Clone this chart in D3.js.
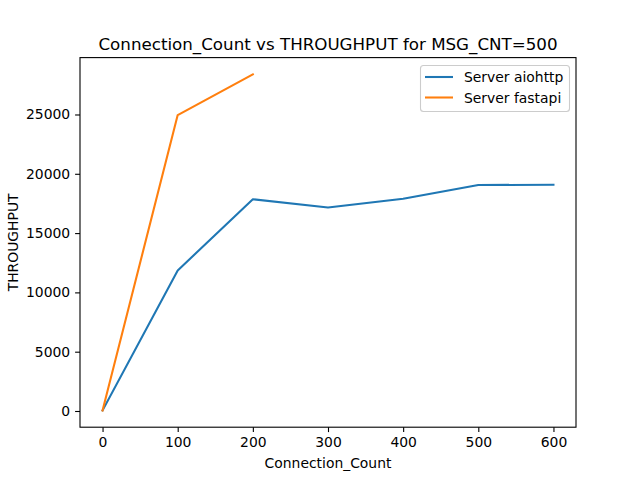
<!DOCTYPE html>
<html>
<head>
<meta charset="utf-8">
<script src="https://cdn.jsdelivr.net/npm/d3@7"></script>
<style>
  body { margin: 0; background: #fff; }
  text { font-family: "DejaVu Sans", sans-serif; }
</style>
</head>
<body>
<svg id="chart" width="640" height="480"></svg>
<script>
// Data
const connCounts = [0, 100, 200, 300, 400, 500, 600];
const aiohttpVals = [50, 11850, 17850, 17150, 17900, 19050, 19080];
const fastapiCounts = [0, 100, 200];
const fastapiVals = [50, 24950, 28380];
const xTicks = [0, 100, 200, 300, 400, 500, 600];
const yTicks = [0, 5000, 10000, 15000, 20000, 25000];
const seriesNames = ["Server aiohttp", "Server fastapi"];
const seriesColors = ["#1f77b4", "#ff7f0e"];

const width = 640;
const height = 480;
const plotLeft = 80, plotRight = 576, plotTop = 57.6, plotBottom = 427.2;

const svg = d3.select("#chart");

// matplotlib-style 5% margins
const xmin = d3.min(connCounts), xmax = d3.max(connCounts);
const allY = aiohttpVals.concat(fastapiVals);
const ymin = d3.min(allY), ymax = d3.max(allY);
const xPad = (xmax - xmin) * 0.05, yPad = (ymax - ymin) * 0.05;

const x = d3.scaleLinear().domain([xmin - xPad, xmax + xPad]).range([plotLeft, plotRight]);
const y = d3.scaleLinear().domain([ymin - yPad, ymax + yPad]).range([plotBottom, plotTop]);

// Axes
const xAxis = svg.append("g")
  .attr("transform", `translate(0,${plotBottom})`)
  .call(d3.axisBottom(x).tickValues(xTicks).tickSizeOuter(0).tickSize(4.9).tickPadding(4.9).tickFormat(d3.format("d")));
const yAxis = svg.append("g")
  .attr("transform", `translate(${plotLeft},0)`)
  .call(d3.axisLeft(y).tickValues(yTicks).tickSizeOuter(0).tickSize(4.9).tickPadding(4.9).tickFormat(d3.format("d")));

[xAxis, yAxis].forEach(a => {
  a.select(".domain").remove();
  a.selectAll(".tick line").attr("stroke", "#000").attr("stroke-width", 1.1);
  a.selectAll(".tick text").attr("font-size", "13.9px").attr("fill", "#000")
    .style("font-family", "DejaVu Sans, sans-serif");
});

// Lines
const line = d3.line().x(d => x(d[0])).y(d => y(d[1]));
const series = [
  d3.zip(connCounts, aiohttpVals),
  d3.zip(fastapiCounts, fastapiVals),
];
series.forEach((s, i) => {
  svg.append("path")
    .datum(s)
    .attr("d", line)
    .attr("fill", "none")
    .attr("stroke", seriesColors[i])
    .attr("stroke-width", 2.08)
    .attr("stroke-linecap", "square")
    .attr("stroke-linejoin", "round");
});

// Frame
svg.append("rect")
  .attr("x", plotLeft).attr("y", plotTop)
  .attr("width", plotRight - plotLeft).attr("height", plotBottom - plotTop)
  .attr("fill", "none").attr("stroke", "#000").attr("stroke-width", 1.1);

// Title and labels
svg.append("text")
  .attr("x", (plotLeft + plotRight) / 2).attr("y", 50)
  .attr("text-anchor", "middle").attr("font-size", "16.7px")
  .text("Connection_Count vs THROUGHPUT for MSG_CNT=500");

svg.append("text")
  .attr("x", (plotLeft + plotRight) / 2).attr("y", 468)
  .attr("text-anchor", "middle").attr("font-size", "13.9px")
  .text("Connection_Count");

svg.append("text")
  .attr("transform", `translate(18,${(plotTop + plotBottom) / 2}) rotate(-90)`)
  .attr("text-anchor", "middle").attr("font-size", "13.9px")
  .text("THROUGHPUT");

// Legend
const legend = svg.append("g");
legend.append("rect")
  .attr("x", 420.5).attr("y", 65.5).attr("width", 149).attr("height", 46)
  .attr("rx", 3).attr("fill", "#fff").attr("fill-opacity", 0.8)
  .attr("stroke", "#ccc").attr("stroke-width", 1.1);
seriesNames.forEach((name, i) => {
  const ly = 77 + i * 20.5;
  legend.append("line")
    .attr("x1", 425).attr("x2", 453).attr("y1", ly).attr("y2", ly)
    .attr("stroke", seriesColors[i]).attr("stroke-width", 2.08);
  legend.append("text")
    .attr("x", 464).attr("y", ly + 5)
    .attr("font-size", "13.9px")
    .text(name);
});
</script>
</body>
</html>
